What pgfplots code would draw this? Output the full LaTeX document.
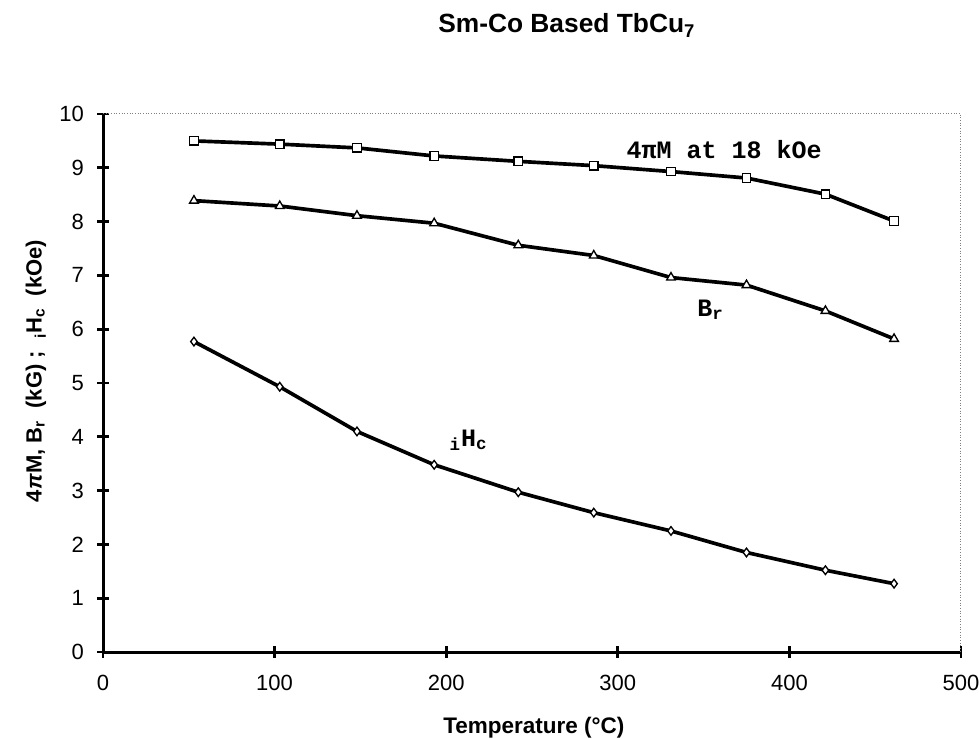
\documentclass[border=0pt]{standalone}
\usepackage{fontspec}
\setmainfont{Liberation Sans}
\newfontfamily\courier{Liberation Mono}
\usepackage{pgfplots}
\pgfplotsset{compat=1.18}

\pgfplotstableread{
T    M
53   9.50
103  9.44
148  9.37
193  9.22
242  9.12
286  9.04
331  8.93
375  8.81
421  8.51
461  8.01
}\magnet

\pgfplotstableread{
T    Br
53   8.39
103  8.29
148  8.11
193  7.97
242  7.56
286  7.37
331  6.96
375  6.82
421  6.34
461  5.82
}\remanence

\pgfplotstableread{
T    Hc
53   5.77
103  4.93
148  4.10
193  3.48
242  2.97
286  2.59
331  2.25
375  1.85
421  1.52
461  1.27
}\coercivity

\begin{document}
\begin{tikzpicture}
\path[use as bounding box] (0,0) rectangle (587.4pt,442.8pt);
\begin{axis}[
    at={(61.8pt,51.6pt)}, anchor=south west,
    scale only axis,
    width=514.8pt, height=322.8pt,
    xmin=0, xmax=500, ymin=0, ymax=10,
    xtick={0,100,...,500}, ytick={0,1,...,10},
    axis x line*=bottom, axis y line*=left,
    axis line style={-, line width=1.8pt},
    tick align=center,
    major tick length=7pt,
    tick style={line width=1.6pt, black},
    ticklabel style={font=\fontsize{13.2}{15}\selectfont},
    /pgf/number format/assume math mode=true,
    xticklabel style={yshift=-7pt},
    yticklabel style={xshift=-4.5pt},
    clip=false,
    every axis plot/.append style={line width=2.2pt, black},
]
\draw[gray, densely dotted, line width=0.6pt] (rel axis cs:0,1) -- (rel axis cs:1,1) -- (rel axis cs:1,0);
\addplot[mark=square*, mark options={fill=white, line width=0.8pt, scale=0.85}, mark size=3pt] table[x=T, y=M] {\magnet};
\addplot[mark=triangle*, mark options={fill=white, line width=0.8pt}, mark size=3pt] table[x=T, y=Br] {\remanence};
\addplot[mark=diamond*, mark options={fill=white, line width=0.8pt}, mark size=2.6pt] table[x=T, y=Hc] {\coercivity};
\node[font=\courier\bfseries\fontsize{15}{17}\selectfont] at (axis cs:362,9.33) {4πM at 18 kOe};
\node[font=\courier\bfseries\fontsize{15}{17}\selectfont] at (axis cs:354,6.36) {B\textsubscript{r}};
\node[font=\courier\bfseries\fontsize{15}{17}\selectfont] at (axis cs:213,3.94) {\textsubscript{i}H\textsubscript{c}};
\end{axis}
\node[font=\bfseries\fontsize{15.8}{18}\selectfont, anchor=base west, inner sep=0pt] at (262.8pt,423pt) {Sm-Co Based TbCu\textsubscript{7}};
\node[font=\bfseries\fontsize{13.5}{15}\selectfont, anchor=base west, inner sep=0pt] at (265.8pt,3pt) {Temperature (°C)};
\node[font=\bfseries\fontsize{13.2}{15}\selectfont, rotate=90] at (21.6pt,220.2pt) {4\textit{π}M, B\textsubscript{r}\ \ (kG)\ ;\ \ \textsubscript{i}H\textsubscript{c}\ \ (kOe)};
\end{tikzpicture}
\end{document}
